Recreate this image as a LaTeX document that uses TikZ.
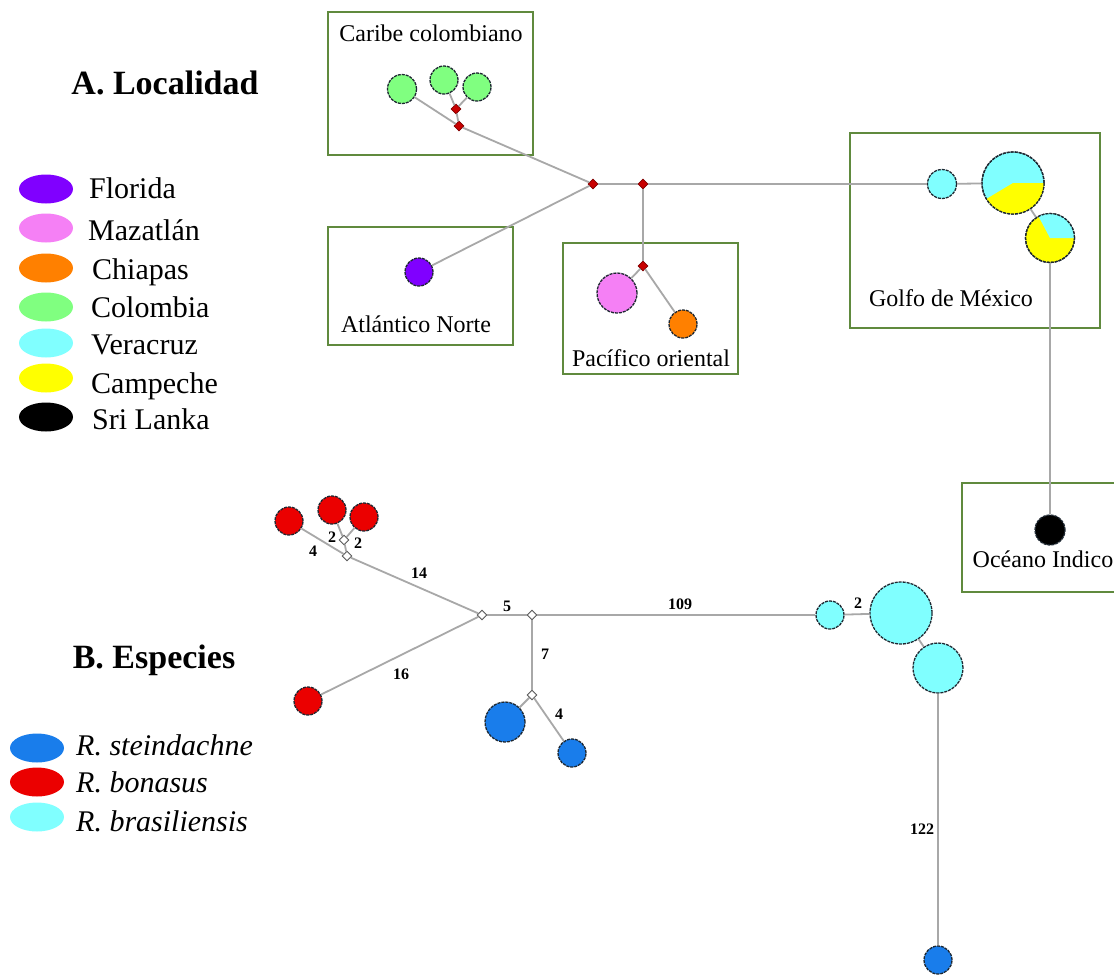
\documentclass[tikz,border=0pt]{standalone}
\usepackage{fontspec}
\setmainfont{Liberation Serif}
\usetikzlibrary{shapes.geometric}

\definecolor{boxgreen}{RGB}{96,138,62}
\definecolor{edgegray}{RGB}{168,168,168}
\definecolor{hapborder}{RGB}{30,40,50}
\definecolor{cFlorida}{RGB}{128,0,255}
\definecolor{cMazatlan}{RGB}{245,128,245}
\definecolor{cChiapas}{RGB}{255,128,0}
\definecolor{cColombia}{RGB}{128,255,128}
\definecolor{cVeracruz}{RGB}{128,255,255}
\definecolor{cCampeche}{RGB}{255,255,0}
\definecolor{cSteind}{RGB}{25,125,235}
\definecolor{cBonasus}{RGB}{235,0,0}
\definecolor{vecred}{RGB}{200,0,0}

\tikzset{
  hap/.style={circle, inner sep=0pt, draw=hapborder, line width=1.3pt,
              dash pattern=on 3pt off 1pt},
  hapline/.style={draw=hapborder, line width=1.3pt, dash pattern=on 3pt off 1pt},
  vecA/.style={diamond, inner sep=0pt, minimum size=10pt, fill=vecred,
               draw=black!50!red, line width=0.6pt},
  vecB/.style={diamond, inner sep=0pt, minimum size=10pt, fill=white,
               draw=black!65, line width=0.9pt},
  link/.style={draw=edgegray, line width=1.8pt},
  region/.style={draw=boxgreen, line width=2.6pt},
  lbl/.style={font=\fontsize{24}{28}\selectfont, inner sep=0pt, anchor=base},
  leg/.style={font=\fontsize{30}{34}\selectfont, inner sep=0pt, anchor=base west},
  title/.style={font=\bfseries\fontsize{34}{38}\selectfont, inner sep=0pt, anchor=base},
  swatch/.style={ellipse, minimum width=54pt, minimum height=29pt, inner sep=0pt},
  num/.style={font=\bfseries\fontsize{16}{18}\selectfont, inner sep=0pt}
}

\begin{document}
\begin{tikzpicture}[x=1pt,y=-1pt]
\useasboundingbox[fill=white] (0,0) rectangle (1114,975);

% ---------------- A. Localidad ----------------
\node[title] (titA) at (165,94) {A. Localidad};

% legend by locality
\node[swatch, fill=cFlorida]  (sw1) at (46,189) {};
\node[swatch, fill=cMazatlan] (sw2) at (46,228) {};
\node[swatch, fill=cChiapas]  (sw3) at (46,268) {};
\node[swatch, fill=cColombia] (sw4) at (46,307) {};
\node[swatch, fill=cVeracruz] (sw5) at (46,343) {};
\node[swatch, fill=cCampeche] (sw6) at (46,378) {};
\node[swatch, fill=black]     (sw7) at (46,417) {};
\node[leg] (lg1) at (89,198) {Florida};
\node[leg] (lg2) at (88,240) {Mazatlán};
\node[leg] (lg3) at (92,279) {Chiapas};
\node[leg] (lg4) at (91,317) {Colombia};
\node[leg] (lg5) at (91,354) {Veracruz};
\node[leg] (lg6) at (91,393) {Campeche};
\node[leg] (lg7) at (92,429) {Sri Lanka};

% geographic regions
\draw[region] (328,12) rectangle (533,155);
\draw[region] (328,227) rectangle (513,345);
\draw[region] (563,243) rectangle (738,374);
\draw[region] (850,133) rectangle (1100,328);
\draw[region] (962,483) rectangle (1122,592);
\node[lbl] (rg1) at (431,41)  {Caribe colombiano};
\node[lbl] (rg2) at (416,332) {Atlántico Norte};
\node[lbl] (rg3) at (651,366) {Pacífico oriental};
\node[lbl] (rg4) at (951,306) {Golfo de México};
\node[lbl] (rg5) at (1043,567) {Océano Indico};

% haplotypes
\node[hap, fill=cColombia, minimum size=29pt] (col1) at (402,89) {};
\node[hap, fill=cColombia, minimum size=28pt] (col2) at (444,80) {};
\node[hap, fill=cColombia, minimum size=28pt] (col3) at (477,87) {};
\node[hap, fill=cFlorida,  minimum size=28pt] (flo)  at (419,272) {};
\node[hap, fill=cMazatlan, minimum size=40pt] (maz)  at (617,293) {};
\node[hap, fill=cChiapas,  minimum size=28pt] (chi)  at (683,324) {};
\node[hap, fill=cVeracruz, minimum size=29pt] (ver)  at (942,184) {};
\node[hap, fill=cVeracruz, minimum size=62pt] (gm1)  at (1013,183) {};
\node[hap, fill=cCampeche, minimum size=49pt] (gm2)  at (1050,238) {};
\node[hap, fill=black,     minimum size=30pt] (sri)  at (1050,530) {};

% shared haplotypes as pie charts
\fill[cCampeche] (gm1.center) -- ++(211:31pt) arc[start angle=211, end angle=360, radius=31pt] -- cycle;
\draw[hapline] (gm1.center) circle[radius=31pt];
\fill[cVeracruz] (gm2.center) -- ++(0:24.5pt) arc[start angle=0, end angle=118, radius=24.5pt] -- cycle;
\draw[hapline] (gm2.center) circle[radius=24.5pt];

% median vectors
\node[vecA] (a1) at (456,109) {};
\node[vecA] (a2) at (459,126) {};
\node[vecA] (a3) at (593,184) {};
\node[vecA] (a4) at (643,184) {};
\node[vecA] (a5) at (643,266) {};

% links
\draw[link] (col2) -- (a1);
\draw[link] (col3) -- (a1);
\draw[link] (a1) -- (a2);
\draw[link] (col1) -- (a2);
\draw[link] (a2) -- (a3);
\draw[link] (flo) -- (a3);
\draw[link] (a3) -- (a4);
\draw[link] (a4) -- (a5);
\draw[link] (a5) -- (maz);
\draw[link] (a5) -- (chi);
\draw[link] (a4) -- (ver);
\draw[link] (ver) -- (gm1);
\draw[link] (gm1) -- (gm2);
\draw[link] (gm2) -- (sri);

% ---------------- B. Especies ----------------
\node[title] (titB) at (154,668) {B. Especies};

\node[swatch, fill=cSteind]   (sp1) at (37,748) {};
\node[swatch, fill=cBonasus]  (sp2) at (37,782) {};
\node[swatch, fill=cVeracruz] (sp3) at (37,817) {};
\node[leg] (ls1) at (76,755) {\itshape R. steindachne};
\node[leg] (ls2) at (76,792) {\itshape R. bonasus};
\node[leg] (ls3) at (76,831) {\itshape R. brasiliensis};

% haplotypes
\node[hap, fill=cBonasus,  minimum size=28pt] (bo1) at (289,521) {};
\node[hap, fill=cBonasus,  minimum size=28pt] (bo2) at (332,510) {};
\node[hap, fill=cBonasus,  minimum size=28pt] (bo3) at (364,517) {};
\node[hap, fill=cBonasus,  minimum size=28pt] (bo4) at (308,701) {};
\node[hap, fill=cSteind,   minimum size=40pt] (st1) at (505,722) {};
\node[hap, fill=cSteind,   minimum size=28pt] (st2) at (572,753) {};
\node[hap, fill=cSteind,   minimum size=28pt] (st3) at (938,960) {};
\node[hap, fill=cVeracruz, minimum size=28pt] (br1) at (830,615) {};
\node[hap, fill=cVeracruz, minimum size=62pt] (br2) at (901,613) {};
\node[hap, fill=cVeracruz, minimum size=50pt] (br3) at (938,668) {};

% median vectors
\node[vecB] (b1) at (344,540) {};
\node[vecB] (b2) at (347,556) {};
\node[vecB] (b3) at (482,615) {};
\node[vecB] (b4) at (532,615) {};
\node[vecB] (b5) at (532,695) {};

% links
\draw[link] (bo2) -- (b1);
\draw[link] (bo3) -- (b1);
\draw[link] (b1) -- (b2);
\draw[link] (bo1) -- (b2);
\draw[link] (b2) -- (b3);
\draw[link] (bo4) -- (b3);
\draw[link] (b3) -- (b4);
\draw[link] (b4) -- (br1);
\draw[link] (b4) -- (b5);
\draw[link] (b5) -- (st1);
\draw[link] (b5) -- (st2);
\draw[link] (br1) -- (br2);
\draw[link] (br2) -- (br3);
\draw[link] (br3) -- (st3);

% mutation counts
\node[num] (k1)  at (332,537) {2};
\node[num] (k2)  at (358,543) {2};
\node[num] (k3)  at (313,551) {4};
\node[num] (k4)  at (419,573) {14};
\node[num] (k5)  at (401,674) {16};
\node[num] (k6)  at (507,606) {5};
\node[num] (k7)  at (545,654) {7};
\node[num] (k8)  at (559,714) {4};
\node[num] (k9)  at (680,604) {109};
\node[num] (k10) at (858,603) {2};
\node[num] (k11) at (922,829) {122};
\end{tikzpicture}
\end{document}
